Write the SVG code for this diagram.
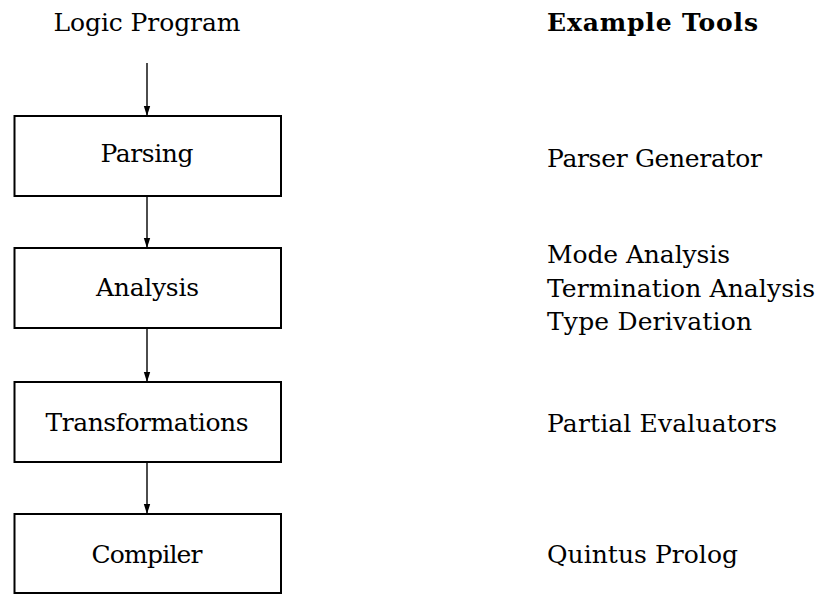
<svg xmlns="http://www.w3.org/2000/svg" width="820" height="595" viewBox="0 0 820 595">
  <style>
    text { font-family: 'DejaVu Serif', serif; font-size: 25px; fill: #000; }
    .hdr { font-weight: bold; }
    .mid { text-anchor: middle; }
    .box { fill: #fff; stroke: #000; stroke-width: 2; }
    .edge { stroke: #000; stroke-width: 1.4; fill: none; }
  </style>
  <defs>
    <marker id="tip" markerUnits="userSpaceOnUse" markerWidth="10" markerHeight="8" viewBox="0 0 10 8" refX="10" refY="4" orient="auto">
      <path d="M0,0.8 L10,4 L0,7.2 Z" fill="#000" />
    </marker>
  </defs>

  <!-- pipeline input -->
  <g id="input">
    <text class="mid" x="147" y="31" textLength="187" lengthAdjust="spacing">Logic Program</text>
  </g>

  <!-- pipeline stages -->
  <g id="parsing">
    <rect class="box" x="14.5" y="116" width="266.5" height="80" />
    <text class="mid" x="147" y="162" textLength="93" lengthAdjust="spacing">Parsing</text>
  </g>
  <g id="analysis">
    <rect class="box" x="14.5" y="248" width="266.5" height="80" />
    <text class="mid" x="147.5" y="296" textLength="103" lengthAdjust="spacing">Analysis</text>
  </g>
  <g id="transformations">
    <rect class="box" x="14.5" y="382" width="266.5" height="80" />
    <text class="mid" x="147" y="431" textLength="203" lengthAdjust="spacing">Transformations</text>
  </g>
  <g id="compiler">
    <rect class="box" x="14.5" y="514" width="266.5" height="79" />
    <text class="mid" x="147" y="563" textLength="111" lengthAdjust="spacing">Compiler</text>
  </g>

  <!-- connectors -->
  <g id="connectors">
    <line class="edge" x1="147" y1="63" x2="147" y2="116" marker-end="url(#tip)" />
    <line class="edge" x1="147" y1="196" x2="147" y2="248" marker-end="url(#tip)" />
    <line class="edge" x1="147" y1="328" x2="147" y2="382" marker-end="url(#tip)" />
    <line class="edge" x1="147" y1="462" x2="147" y2="514" marker-end="url(#tip)" />
  </g>

  <!-- example tools column -->
  <g id="tools-heading">
    <text class="hdr" x="547" y="31" textLength="211" lengthAdjust="spacing">Example Tools</text>
  </g>
  <g id="tools-parsing">
    <text x="547" y="167" textLength="215" lengthAdjust="spacing">Parser Generator</text>
  </g>
  <g id="tools-analysis">
    <text x="547" y="263" textLength="183" lengthAdjust="spacing">Mode Analysis</text>
    <text x="547" y="297" textLength="268" lengthAdjust="spacing">Termination Analysis</text>
    <text x="547" y="330" textLength="205" lengthAdjust="spacing">Type Derivation</text>
  </g>
  <g id="tools-transformations">
    <text x="547" y="432" textLength="230" lengthAdjust="spacing">Partial Evaluators</text>
  </g>
  <g id="tools-compiler">
    <text x="547" y="563" textLength="191" lengthAdjust="spacing">Quintus Prolog</text>
  </g>
</svg>
